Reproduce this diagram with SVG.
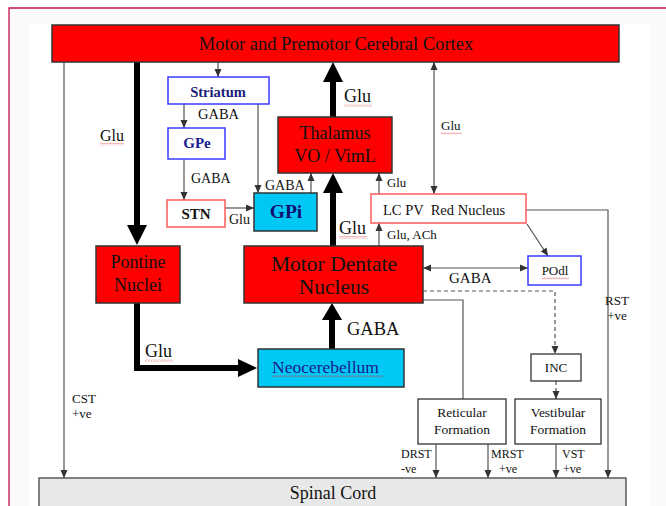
<svg xmlns="http://www.w3.org/2000/svg" width="666" height="506" viewBox="0 0 666 506">
<style>
text{font-family:"Liberation Serif","Times New Roman",serif;fill:#111}
.red{fill:#ff0000;stroke:#333;stroke-width:1.5}
.cyan{fill:#00c8f5;stroke:#333;stroke-width:1.5}
.wb{fill:#fff;stroke:#3a3aff;stroke-width:1.5}
.wr{fill:#fff;stroke:#ff5a5a;stroke-width:1.5}
.wk{fill:#fff;stroke:#333;stroke-width:1.3}
.c{text-anchor:middle}
.ln{fill:none;stroke:#555;stroke-width:1.2}
.da{stroke-dasharray:4 3}
.thick{fill:none;stroke:#000;stroke-width:6}
.bold{font-weight:bold}
</style>
<defs>
<marker id="ah" viewBox="0 0 8 8" refX="8" refY="4" markerWidth="8" markerHeight="8" markerUnits="userSpaceOnUse" orient="auto-start-reverse">
<path d="M0 0.5 L8 4 L0 7.5 Z" fill="#333"/>
</marker>
<pattern id="sq" width="3" height="2.5" patternUnits="userSpaceOnUse">
<path d="M0 2 L1.5 0.5 L3 2" stroke="#e03030" fill="none" stroke-width="0.6"/>
</pattern>
</defs>
<rect width="666" height="506" fill="#fff"/>
<rect x="9" y="8" width="657" height="498" fill="#fbf9fa"/>
<path d="M9 506 V8 H666" fill="none" stroke="#c0134a" stroke-width="1.3"/>
<rect x="29" y="24" width="621" height="482" fill="#fff"/>

<g id="connectors">
<line class="ln" x1="218" y1="62" x2="218" y2="77" marker-end="url(#ah)"/>
<line class="ln" x1="184" y1="104" x2="184" y2="128" marker-end="url(#ah)"/>
<line class="ln" x1="184" y1="159" x2="184" y2="200" marker-end="url(#ah)"/>
<line class="ln" x1="225" y1="208" x2="254" y2="208" marker-end="url(#ah)"/>
<line class="ln" x1="258" y1="104" x2="258" y2="193" marker-end="url(#ah)"/>
<line class="ln" x1="311" y1="193" x2="311" y2="173" marker-end="url(#ah)"/>
<line class="ln" x1="379" y1="194" x2="379" y2="173" marker-end="url(#ah)"/>
<line class="ln" x1="379" y1="246" x2="379" y2="223" marker-end="url(#ah)"/>
<line class="ln" x1="434" y1="62" x2="434" y2="194" marker-start="url(#ah)" marker-end="url(#ah)"/>
<line class="ln" x1="527" y1="224" x2="548" y2="256" marker-end="url(#ah)"/>
<line class="ln" x1="423" y1="268" x2="528" y2="268" marker-start="url(#ah)" marker-end="url(#ah)"/>
<path class="ln da" d="M423 291 H555 V354" marker-end="url(#ah)"/>
<path class="ln da" d="M556 381 V399" marker-end="url(#ah)"/>
<path class="ln" d="M423 300 H463 V399"/>
<path class="ln" d="M526 210 H608 V478" marker-end="url(#ah)"/>
<line class="ln" x1="64" y1="62" x2="64" y2="478" marker-end="url(#ah)"/>
<line class="ln" x1="436" y1="444" x2="436" y2="478" marker-end="url(#ah)"/>
<line class="ln" x1="488" y1="444" x2="488" y2="478" marker-end="url(#ah)"/>
<line class="ln" x1="556" y1="444" x2="556" y2="478" marker-end="url(#ah)"/>
<line class="thick" x1="137" y1="62" x2="137" y2="227"/>
<polygon points="127,225 147,225 137,245" fill="#000"/>
<line class="thick" x1="333" y1="117" x2="333" y2="80"/>
<polygon points="323,82 343,82 333,62" fill="#000"/>
<line class="thick" x1="333" y1="246" x2="333" y2="191"/>
<polygon points="323,193 343,193 333,173" fill="#000"/>
<line class="thick" x1="332" y1="349" x2="332" y2="318"/>
<polygon points="322,320 342,320 332,303" fill="#000"/>
<path class="thick" d="M137 303 V368 H241"/>
<polygon points="238,359 238,377 257,368" fill="#000"/>
</g>

<g id="labels">
<text x="100" y="141" font-size="16">Glu</text>
<rect x="100" y="143" width="24" height="2.5" fill="url(#sq)"/>
<text x="344" y="102" font-size="18">Glu</text>
<rect x="344" y="104" width="28" height="2.5" fill="url(#sq)"/>
<text x="441" y="130" font-size="13">Glu</text>
<rect x="441" y="132" width="21" height="2.5" fill="url(#sq)"/>
<text x="198" y="119" font-size="14.5">GABA</text>
<text x="191" y="183" font-size="14">GABA</text>
<text x="265" y="190" font-size="14">GABA</text>
<text x="229" y="224" font-size="14">Glu</text>
<text x="387" y="187" font-size="12.7">Glu</text>
<text x="339" y="234" font-size="18">Glu</text>
<rect x="339" y="236" width="28" height="2.5" fill="url(#sq)"/>
<text x="387" y="239" font-size="13">Glu, ACh</text>
<text x="449" y="283" font-size="15">GABA</text>
<text x="145" y="357" font-size="18">Glu</text>
<rect x="145" y="359" width="28" height="2.5" fill="url(#sq)"/>
<text x="347" y="335" font-size="18.5">GABA</text>
<text x="617" y="305" font-size="13" class="c">RST</text>
<text x="617" y="320" font-size="13" class="c">+ve</text>
<text x="72" y="403" font-size="13">CST</text>
<text x="72" y="418" font-size="13">+ve</text>
<text x="401" y="458" font-size="12">DRST</text>
<text x="401" y="473" font-size="12">-ve</text>
<text x="491" y="458" font-size="12">MRST</text>
<text x="499" y="473" font-size="12">+ve</text>
<text x="562" y="458" font-size="12">VST</text>
<text x="563" y="473" font-size="12">+ve</text>
</g>

<g id="cortex">
<rect class="red" x="52" y="25" width="567" height="37"/>
<text class="c" x="336" y="50" font-size="18.5">Motor and Premotor Cerebral Cortex</text>
</g>
<g id="striatum">
<rect class="wb" x="168" y="77" width="101" height="27"/>
<text class="c bold" x="218" y="97" font-size="14.5" style="fill:#1c1c78">Striatum</text>
</g>
<g id="gpe">
<rect class="wb" x="168" y="128" width="57" height="31"/>
<text class="c bold" x="197" y="148" font-size="15" style="fill:#1c1c90">GPe</text>
</g>
<g id="stn">
<rect class="wr" x="167" y="200" width="58" height="27"/>
<text class="c bold" x="196" y="219" font-size="15">STN</text>
</g>
<g id="gpi">
<rect class="cyan" x="254" y="193" width="63" height="38"/>
<text class="c bold" x="286" y="218" font-size="19.5" style="fill:#101070">GPi</text>
</g>
<g id="thalamus">
<rect class="red" x="278" y="117" width="114" height="56"/>
<text class="c" x="335" y="139" font-size="18">Thalamus</text>
<text class="c" x="335" y="162" font-size="18">VO / VimL</text>
</g>
<g id="lcpv">
<rect class="wr" x="371" y="194" width="155" height="29"/>
<text x="383" y="215" font-size="14.5" xml:space="preserve">LC PV  Red Nucleus</text>
</g>
<g id="podl">
<rect class="wb" x="528" y="256" width="53" height="29"/>
<text class="c" x="555" y="275" font-size="13">POdl</text>
<rect x="542" y="277" width="27" height="2.5" fill="url(#sq)"/>
</g>
<g id="pontine">
<rect class="red" x="96" y="246" width="84" height="57"/>
<text class="c" x="138" y="268" font-size="18">Pontine</text>
<text class="c" x="138" y="291" font-size="18">Nuclei</text>
</g>
<g id="dentate">
<rect class="red" x="244" y="246" width="179" height="57"/>
<text class="c" x="334" y="271" font-size="21.5">Motor Dentate</text>
<text class="c" x="334" y="294" font-size="21.5">Nucleus</text>
</g>
<g id="neocerebellum">
<rect class="cyan" x="258" y="349" width="146" height="38"/>
<text x="272" y="373" font-size="17.5" style="fill:#1a1a8c">Neocerebellum</text>
<rect x="272" y="375" width="111" height="2.5" fill="url(#sq)"/>
</g>
<g id="inc">
<rect class="wk" x="531" y="354" width="50" height="27"/>
<text class="c" x="556" y="372" font-size="13">INC</text>
</g>
<g id="reticular">
<rect class="wk" x="418" y="399" width="88" height="45"/>
<text class="c" x="462" y="417" font-size="13.5">Reticular</text>
<text class="c" x="462" y="434" font-size="13.5">Formation</text>
</g>
<g id="vestibular">
<rect class="wk" x="515" y="399" width="86" height="45"/>
<text class="c" x="558" y="417" font-size="13.5">Vestibular</text>
<text class="c" x="558" y="434" font-size="13.5">Formation</text>
</g>
<g id="spinal">
<rect x="39" y="478" width="587" height="40" fill="#e8e8e8" stroke="#444" stroke-width="1.3"/>
<text class="c" x="333" y="499" font-size="18">Spinal Cord</text>
</g>
</svg>
